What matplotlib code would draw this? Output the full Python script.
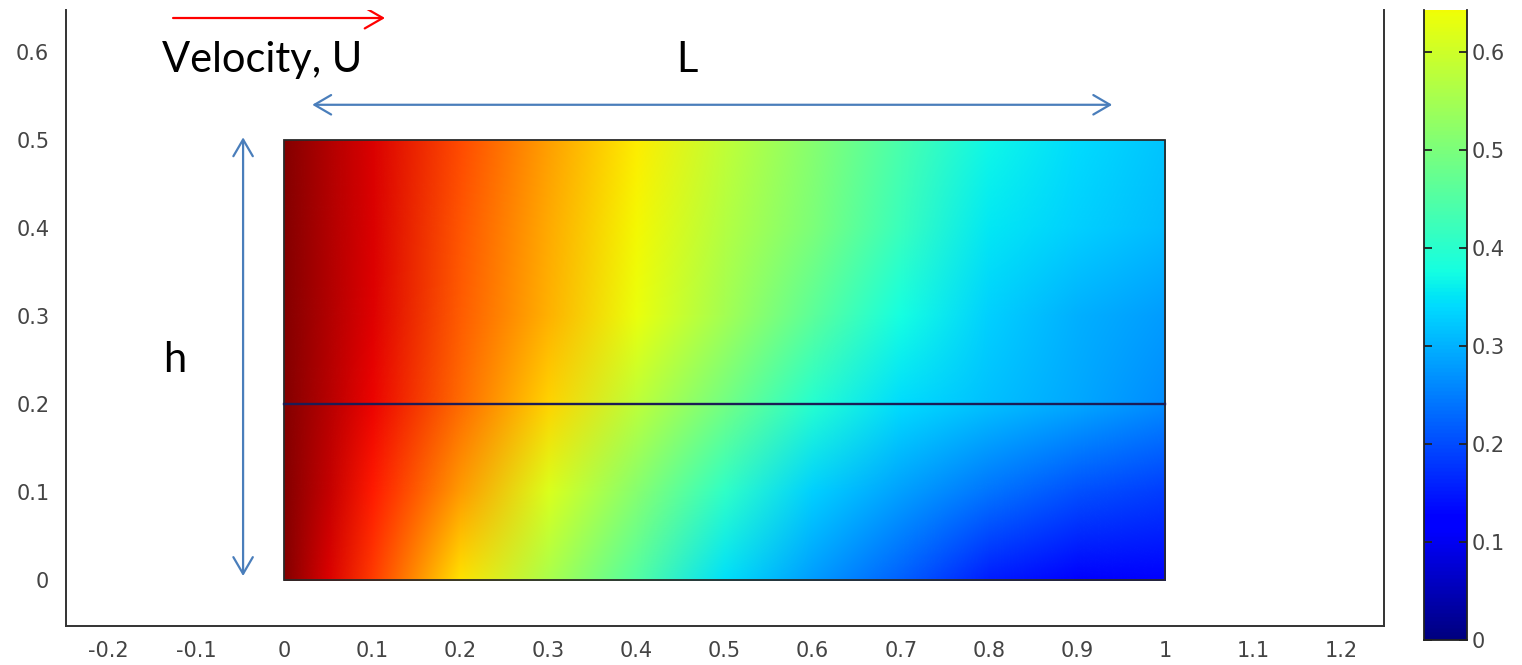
import numpy as np
import matplotlib
matplotlib.use("Agg")
import matplotlib.pyplot as plt
from matplotlib.colors import Normalize
from matplotlib.image import NonUniformImage
from matplotlib.patches import Rectangle, FancyArrowPatch

plt.rcParams["axes.unicode_minus"] = False

# Sampled field on the plate (rows = y, columns = x)
x_nodes = [0.0, 0.05, 0.1, 0.2, 0.3, 0.4, 0.5, 0.6, 0.7, 0.8, 0.9, 1.0]
y_nodes = [0.0, 0.1, 0.2, 0.3, 0.4, 0.5]
row_y00 = [0.995, 0.92, 0.845, 0.67, 0.555, 0.45, 0.345, 0.28, 0.222, 0.155, 0.12, 0.11]
row_y01 = [0.995, 0.94, 0.88, 0.745, 0.617, 0.514, 0.41, 0.33, 0.285, 0.24, 0.205, 0.185]
row_y02 = [0.995, 0.95, 0.905, 0.795, 0.685, 0.58, 0.49, 0.397, 0.34, 0.315, 0.29, 0.265]
row_y03 = [0.995, 0.955, 0.915, 0.81, 0.72, 0.635, 0.55, 0.463, 0.377, 0.33, 0.30, 0.28]
row_y04 = [0.995, 0.955, 0.92, 0.82, 0.73, 0.645, 0.57, 0.50, 0.42, 0.355, 0.33, 0.31]
row_y05 = [0.995, 0.955, 0.92, 0.83, 0.74, 0.66, 0.584, 0.512, 0.44, 0.369, 0.34, 0.32]

plate_length = 1.0
plate_height = 0.5
interface_y = 0.2

x_ticks = [-0.2, -0.1, 0, 0.1, 0.2, 0.3, 0.4, 0.5, 0.6, 0.7, 0.8, 0.9, 1.0, 1.1, 1.2]
y_ticks = [0, 0.1, 0.2, 0.3, 0.4, 0.5, 0.6]
cbar_ticks = [0, 0.1, 0.2, 0.3, 0.4, 0.5, 0.6]

field = np.array([row_y00, row_y01, row_y02, row_y03, row_y04, row_y05])

W, H = 1522, 665
fig = plt.figure(figsize=(W / 100, H / 100), dpi=100)
ax = fig.add_axes([66 / W, 1 - 626 / H, (1384 - 66) / W, (626 - 10) / H])
cax = fig.add_axes([1424 / W, 1 - 640 / H, (1467 - 1424) / W, (640 - 10) / H])

tick_color = "#444444"
spine_color = "#333333"
norm = Normalize(vmin=0, vmax=1)

plate = Rectangle((0, 0), plate_length, plate_height, fill=False,
                  edgecolor="#2a2a2a", linewidth=1.3)
ax.add_patch(plate)
im = NonUniformImage(ax, interpolation="bilinear", cmap="jet", norm=norm,
                     extent=(0, plate_length, 0, plate_height))
im.set_data(np.array(x_nodes), np.array(y_nodes), field)
ax.add_image(im)
im.set_clip_path(plate)
ax.plot([0, plate_length], [interface_y, interface_y], color="#1c1c55",
        linewidth=1.7)

ax.set_xlim(-0.2475, 1.2485)
ax.set_ylim(-0.0523, 0.6477)
ax.set_xticks(x_ticks)
ax.set_xticklabels([f"{v:g}" for v in x_ticks])
ax.set_yticks(y_ticks)
ax.set_yticklabels([f"{v:g}" for v in y_ticks])
ax.tick_params(length=0, labelsize=15, labelcolor=tick_color)
ax.tick_params(axis="x", pad=11)
ax.tick_params(axis="y", pad=12)
ax.spines["top"].set_visible(False)
for side in ("left", "bottom", "right"):
    ax.spines[side].set_color(spine_color)
    ax.spines[side].set_linewidth(1.4)

# Sketch annotations
blue = "#4a7ebb"
arrow_kw = dict(mutation_scale=10, linewidth=1.6, shrinkA=0, shrinkB=0)
ax.add_patch(FancyArrowPatch((-0.126, 0.6386), (0.1146, 0.6386),
                             arrowstyle="->,head_length=1.3,head_width=0.75",
                             color="#ff0000", **arrow_kw))
ax.add_patch(FancyArrowPatch((0.032, 0.54), (0.94, 0.54),
                             arrowstyle="<->,head_length=1.2,head_width=0.7",
                             color=blue, **arrow_kw))
ax.add_patch(FancyArrowPatch((-0.0465, 0.0045), (-0.0465, 0.503),
                             arrowstyle="<->,head_length=1.2,head_width=0.7",
                             color=blue, **arrow_kw))
label_font = dict(family="Lato", fontsize=30, color="black", va="baseline",
                  ha="left")
ax.text(-0.1385, 0.577, "Velocity, U", **label_font)
ax.text(0.445, 0.577, "L", **label_font)
ax.text(-0.1373, 0.2364, "h", **label_font)

# Colour bar
gradient = np.linspace(0, 1, 512).reshape(-1, 1)
cax.imshow(gradient, cmap="jet", norm=norm, aspect="auto", origin="lower",
           extent=(0, 1, 0, 1))
cax.set_xlim(0, 1)
cax.set_ylim(0, 0.643)
cax.set_xticks([])
cax.set_yticks(cbar_ticks)
cax.set_yticklabels([f"{v:g}" for v in cbar_ticks])
cax.yaxis.set_ticks_position("both")
cax.tick_params(axis="y", direction="in", length=6, width=1.3,
                color="#222222", labelleft=False, labelright=True,
                labelsize=15, labelcolor=tick_color, pad=3)
cax.spines["top"].set_visible(False)
for side in ("left", "bottom", "right"):
    cax.spines[side].set_color("#222222")
    cax.spines[side].set_linewidth(1.3)

fig.savefig("out.png", dpi=100, facecolor="white")
